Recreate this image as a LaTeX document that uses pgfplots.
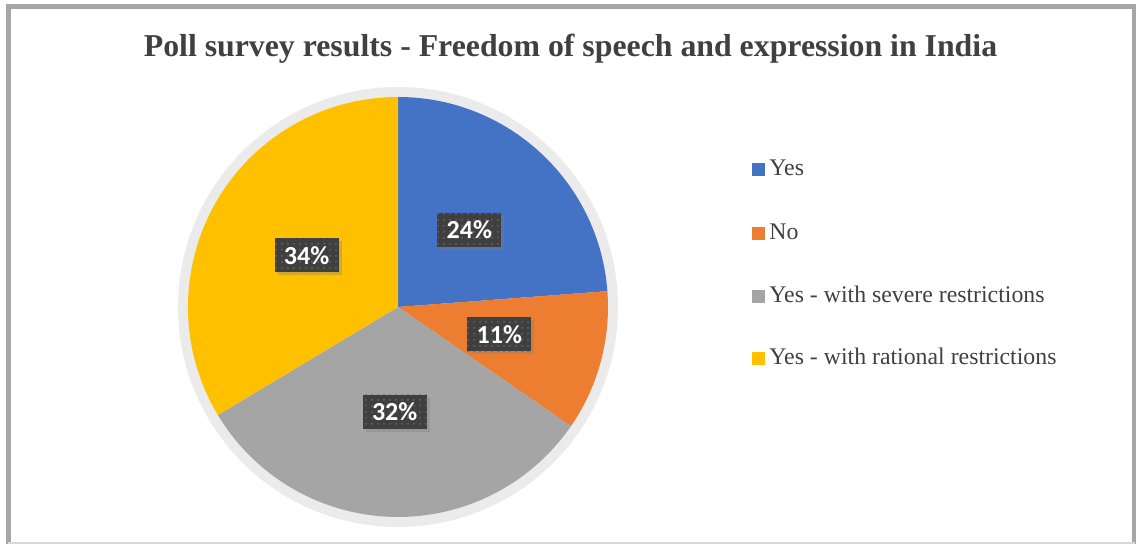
\documentclass[border=0pt]{standalone}
\usepackage{pgfplots}
\pgfplotsset{compat=1.18}
\usepackage{pgfplotstable}
\usepackage{fontspec}
\setmainfont{Liberation Serif}
\newfontfamily\calibri{Carlito}
\usetikzlibrary{patterns,shadows}
\definecolor{pie0}{HTML}{4472C4}
\definecolor{pie1}{HTML}{ED7D31}
\definecolor{pie2}{HTML}{A5A5A5}
\definecolor{pie3}{HTML}{FFC000}
\definecolor{txt}{HTML}{404040}
\definecolor{frame}{HTML}{A6A6A6}
\definecolor{ring}{HTML}{EBEBEB}
\definecolor{lblbg}{HTML}{3F3F3F}
\pgfplotstableread{
value label
23.8 24
10.8 11
31.8 32
33.6 34
}\piedata
\begin{document}
\begin{tikzpicture}
\begin{axis}[width=568pt,height=272pt,scale only axis,hide axis,
  xmin=0,xmax=1136,ymin=0,ymax=544,clip=false]
% frame
\draw[frame,line width=2.5pt] (axis cs:8,0) -- (axis cs:8,537.5) -- (axis cs:1134.5,537.5) -- (axis cs:1134.5,0);
\draw[black!15,line width=1pt] (axis cs:8,1) -- (axis cs:1134.5,1);
% title
\node[anchor=base,text=txt,font=\bfseries\fontsize{15.9}{18}\selectfont] at (axis cs:570.5,487) {Poll survey results - Freedom of speech and expression in India};
% ring
\fill[ring] (axis cs:398,237) circle[radius=110pt];
% wedges
\gdef\start{90}
\pgfplotsforeachungrouped \i in {0,1,2,3}{%
  \pgfplotstablegetelem{\i}{value}\of\piedata
  \pgfmathsetmacro\v{\pgfplotsretval}%
  \pgfmathsetmacro\stop{\start-3.6*\v}%
  \edef\cmd{\noexpand\fill[pie\i] (axis cs:398,237) -- ++(\start:105pt) arc[start angle=\start, end angle=\stop, radius=105pt] -- cycle;}%
  \cmd
  \global\let\start\stop
}
% labels
\gdef\start{90}
\pgfplotsforeachungrouped \i in {0,1,2,3}{%
  \pgfplotstablegetelem{\i}{value}\of\piedata
  \pgfmathsetmacro\v{\pgfplotsretval}%
  \pgfplotstablegetelem{\i}{label}\of\piedata
  \edef\lab{\pgfplotsretval}%
  \pgfmathsetmacro\stop{\start-3.6*\v}%
  \pgfmathsetmacro\mid{(\start+\stop)/2}%
  \pgfmathsetmacro\lx{398+105*cos(\mid)}%
  \pgfmathsetmacro\ly{237+105*sin(\mid)}%
  \edef\cmd{\noexpand\node[fill=lblbg,text=white,inner sep=0pt,minimum width=32pt,minimum height=17pt,
     font=\noexpand\calibri\noexpand\bfseries\noexpand\fontsize{13}{15}\noexpand\selectfont,
     drop shadow={shadow xshift=1.5pt,shadow yshift=-1.5pt,opacity=0.35},
     postaction={pattern=dots,pattern color=black!60}] at (axis cs:\lx,\ly) {\lab\noexpand\%};}%
  \cmd
  \global\let\start\stop
}
% legend
\fill[pie0] (axis cs:752,368) rectangle (axis cs:765,381);
\node[anchor=base west,inner sep=0pt,text=txt,font=\fontsize{11.9}{14}\selectfont] at (axis cs:769,368) {Yes};
\fill[pie1] (axis cs:752,304) rectangle (axis cs:765,317);
\node[anchor=base west,inner sep=0pt,text=txt,font=\fontsize{11.9}{14}\selectfont] at (axis cs:769,304) {No};
\fill[pie2] (axis cs:752,241) rectangle (axis cs:765,254);
\node[anchor=base west,inner sep=0pt,text=txt,font=\fontsize{11.9}{14}\selectfont] at (axis cs:769,241) {Yes - with severe restrictions};
\fill[pie3] (axis cs:752,179) rectangle (axis cs:765,192);
\node[anchor=base west,inner sep=0pt,text=txt,font=\fontsize{11.9}{14}\selectfont] at (axis cs:769,179) {Yes - with rational restrictions};
\end{axis}
\pgfresetboundingbox
\useasboundingbox (0,0) rectangle (568pt,272pt);
\end{tikzpicture}
\end{document}
